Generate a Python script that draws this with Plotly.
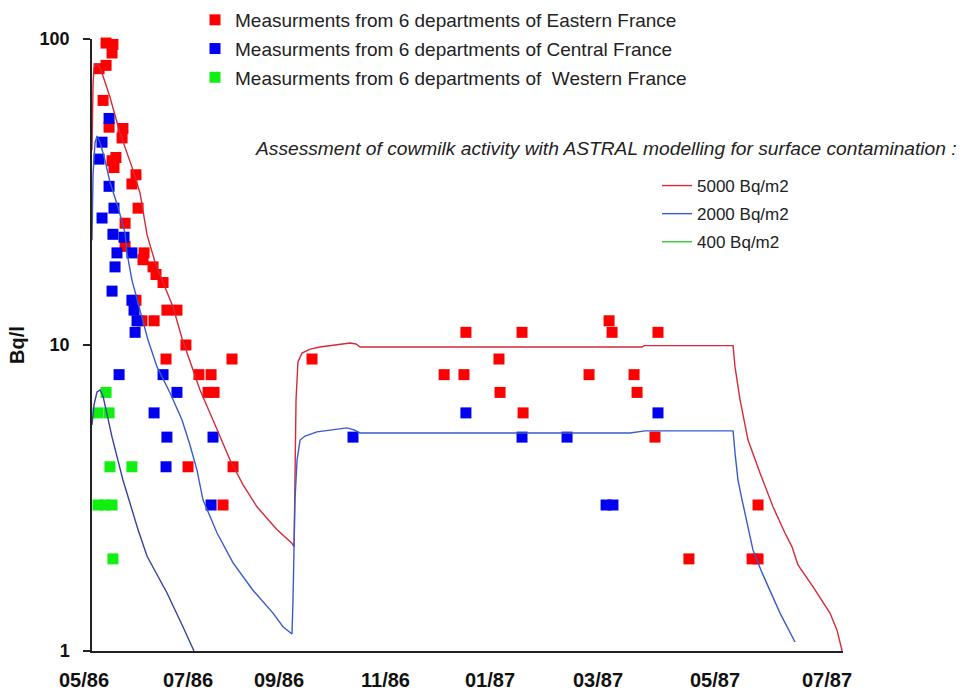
import plotly.graph_objects as go

# ---------------- data (x = days since 1 May 1986, y = Bq/l) ----------------
east_day = [8.0, 11.9, 11.4, 4.0, 8.0, 6.3, 9.7, 17.6, 17.1, 11.4,
            13.6, 12.5, 25.0, 22.7, 26.2, 18.8, 18.8, 29.6, 29.0, 34.7,
            36.4, 40.4, 25.0, 28.4, 35.3, 42.6, 48.3, 53.4, 42.1, 79.6,
            125.1, 60.8, 67.7, 66.0, 69.4, 54.6, 80.2, 74.5,
            212.6, 244.5, 294.0, 295.7, 321.8, 231.4, 200.2, 211.5, 282.6, 308.2,
            232.0, 309.9, 245.1, 320.1, 378.7, 339.4, 375.3, 378.7]
east_val = [97, 96, 90, 80, 82, 63, 51.5, 51, 47.5, 40,
            41, 38, 36, 33.6, 28, 25, 21, 20, 19, 18,
            17, 16, 14, 12, 12, 13, 13, 10, 9, 9,
            9, 8, 8, 7, 7, 4, 4, 3,
            11, 11, 12, 11, 11, 9, 8, 8, 8, 8,
            7, 7, 6, 5, 3, 2, 2, 2]

central_day = [9.7, 5.7, 4.0, 9.7, 12.5, 5.7, 11.9, 18.2, 14.2, 22.7,
               13.1, 11.4, 22.7, 23.9, 25.6, 24.5, 15.4, 40.4, 48.3, 35.3,
               42.6, 68.8, 42.1, 67.7, 212.6, 321.8, 148.4, 244.5, 270.1, 292.3, 296.2]
central_val = [55, 46, 40.5, 33, 28, 26, 23, 22.5, 20, 20,
               18, 15, 14, 13, 12, 11, 8, 8, 7, 6,
               5, 5, 4, 3, 6, 6, 5, 5, 5, 3, 3]

west_day = [8.0, 3.4, 9.7, 10.2, 22.7, 3.4, 7.4, 11.4, 11.9]
west_val = [7, 6, 6, 4, 4, 3, 3, 3, 2]

# ASTRAL model curves
m5000_day = [0, 0.57, 1.14, 2.27, 3.98, 6.25, 10.2, 15.9, 22.7, 27.3,
             31.3, 35.8, 40.4, 46.1, 51.2, 56.9, 61.4, 68.8, 78.5, 85.9,
             93.8, 105.2, 113.7, 114.9, 115.4, 116.0, 117.1, 119.4, 124.0, 129.6,
             138.2, 146.7, 150.1, 152.4, 312.7, 313.9, 364.5, 365.6, 368.5, 373.0,
             379.8, 387.2, 394.0, 398.0, 401.4, 410.0, 419.6, 423.6, 426.5]
m5000_val = [43.4, 70.8, 80.4, 82.8, 81.6, 75.7, 64.6, 49.3, 38.2, 31.4,
             22.9, 18.7, 16.0, 13.3, 10.5, 8.4, 7.13, 5.69, 4.21, 3.49,
             2.96, 2.49, 2.25, 2.19, 3.62, 6.61, 8.80, 9.41, 9.70, 9.85,
             10.0, 10.15, 10.08, 9.85, 9.85, 9.95, 9.95, 8.48, 6.61, 4.89,
             3.82, 2.96, 2.43, 2.19, 1.91, 1.62, 1.33, 1.17, 1.0]

m2000_day = [0, 0.57, 1.7, 2.84, 4.55, 7.4, 10.2, 14.8, 18.8, 19.9,
             22.7, 27.3, 31.8, 37.0, 44.4, 51.2, 55.7, 59.7, 63.1, 71.1,
             80.2, 91.5, 102.9, 108.6, 112.6, 113.7, 114.3, 114.9, 115.4, 116.6,
             118.3, 121.1, 127.9, 145.0, 149.0, 152.4, 305.9, 314.4, 364.5, 365.6,
             367.3, 369.6, 372.4, 375.8, 381.0, 391.2, 399.7]
m2000_val = [22.0, 35.9, 45.7, 48.2, 46.0, 40.2, 34.1, 28.2, 23.2, 20.0,
             16.3, 13.0, 10.4, 8.48, 6.97, 5.69, 4.71, 3.90, 3.12, 2.43,
             1.94, 1.58, 1.33, 1.20, 1.145, 1.137, 1.47, 2.31, 3.12, 4.21,
             4.89, 5.04, 5.20, 5.36, 5.28, 5.16, 5.16, 5.24, 5.24, 4.44,
             3.62, 3.12, 2.62, 2.14, 1.80, 1.33, 1.07]

m400_day = [0, 1.14, 2.84, 4.55, 6.25, 7.96, 11.4, 17.6, 26.2, 31.3, 42.6, 51.7, 58.0]
m400_val = [5.48, 6.37, 7.02, 7.13, 6.81, 6.13, 5.0, 3.62, 2.49, 2.04, 1.55, 1.20, 1.0]

tick_labels = ["05/86", "07/86", "09/86", "11/86", "01/87", "03/87", "05/87", "07/87"]
tick_days = [-4.5, 54.6, 106.3, 166.6, 226.3, 287.7, 354.5, 418.0]

y_tick_vals = [1, 10, 100]
y_tick_text = ["1", "10", "100"]

X_MAX = 427
PLOT_W = 751  # px width of plotting area

# ---------------- figure ----------------
FONT = "Arial, 'Liberation Sans', Helvetica, sans-serif"
fig = go.Figure()

fig.add_trace(go.Scatter(x=east_day, y=east_val, mode="markers",
                         name="Measurments from 6 departments of Eastern France",
                         marker=dict(symbol="square", size=11, color="#ff0000"),
                         cliponaxis=False, legend="legend", legendgroup="a"))
fig.add_trace(go.Scatter(x=central_day, y=central_val, mode="markers",
                         name="Measurments from 6 departments of Central France",
                         marker=dict(symbol="square", size=11, color="#0000f0"),
                         cliponaxis=False, legend="legend", legendgroup="b"))
fig.add_trace(go.Scatter(x=west_day, y=west_val, mode="markers",
                         name="Measurments from 6 departments of  Western France",
                         marker=dict(symbol="square", size=11, color="#11ee11"),
                         cliponaxis=False, legend="legend", legendgroup="c"))

fig.add_trace(go.Scatter(x=m5000_day, y=m5000_val, mode="lines", name="5000 Bq/m2",
                         line=dict(color="#d42a3a", width=1.4),
                         legend="legend2", legendgroup="d"))
fig.add_trace(go.Scatter(x=m2000_day, y=m2000_val, mode="lines", name="2000 Bq/m2",
                         line=dict(color="#3a5cc8", width=1.4),
                         legend="legend2", legendgroup="e"))
fig.add_trace(go.Scatter(x=m400_day, y=m400_val, mode="lines", name="400 Bq/m2",
                         line=dict(color="#34449c", width=1.4), showlegend=False))
fig.add_trace(go.Scatter(x=[None], y=[None], mode="lines", name="400 Bq/m2",
                         line=dict(color="#33cc33", width=1.4),
                         legend="legend2", legendgroup="f"))

for lab, d in zip(tick_labels, tick_days):
    xd = min(max(d, 0), X_MAX)
    fig.add_annotation(x=xd, y=0, xref="x", yref="paper", text=lab, showarrow=False,
                       xshift=(d - xd) * PLOT_W / X_MAX,
                       yshift=-29, yanchor="middle", xanchor="center",
                       font=dict(family=FONT, size=20, color="#111", weight="bold"))

fig.add_annotation(x=(253 - 92) / 751, y=(651 - 148) / 612, xref="paper", yref="paper",
                   xanchor="left", yanchor="middle", showarrow=False,
                   text="<i>Assessment of cowmilk activity with ASTRAL modelling for surface contamination :</i>",
                   font=dict(family=FONT, size=19.2, color="#222"))

fig.update_layout(
    width=965, height=691,
    margin=dict(l=92, r=122, t=39, b=40, autoexpand=False),
    paper_bgcolor="white", plot_bgcolor="white",
    font=dict(family=FONT, color="#222"),
    xaxis=dict(range=[0, X_MAX], showgrid=False, zeroline=False, showline=True,
               linecolor="#222", linewidth=1.5, ticks="", showticklabels=False),
    yaxis=dict(type="log", range=[0, 2], showgrid=False, zeroline=False, showline=True,
               linecolor="#222", linewidth=1.5, ticks="outside", ticklen=7, tickwidth=1.5,
               tickcolor="#222", tickvals=y_tick_vals, ticktext=y_tick_text,
               tickfont=dict(family=FONT, size=18, color="#111", weight="bold"),
               ticklabelstandoff=10,
               title=dict(text="Bq/l", standoff=10,
                          font=dict(family=FONT, size=20, color="#111", weight="bold"))),
    legend=dict(x=(195 - 92) / 751, y=(651 - 1) / 612, xanchor="left", yanchor="top",
                bgcolor="rgba(0,0,0,0)", font=dict(family=FONT, size=19, color="#222"),
                tracegroupgap=1),
    legend2=dict(x=(657 - 92) / 751, y=(651 - 168) / 612, xanchor="left", yanchor="top",
                 bgcolor="rgba(0,0,0,0)", font=dict(family=FONT, size=17, color="#222"),
                 tracegroupgap=3),
    showlegend=True,
)

fig.write_html("out.html")
